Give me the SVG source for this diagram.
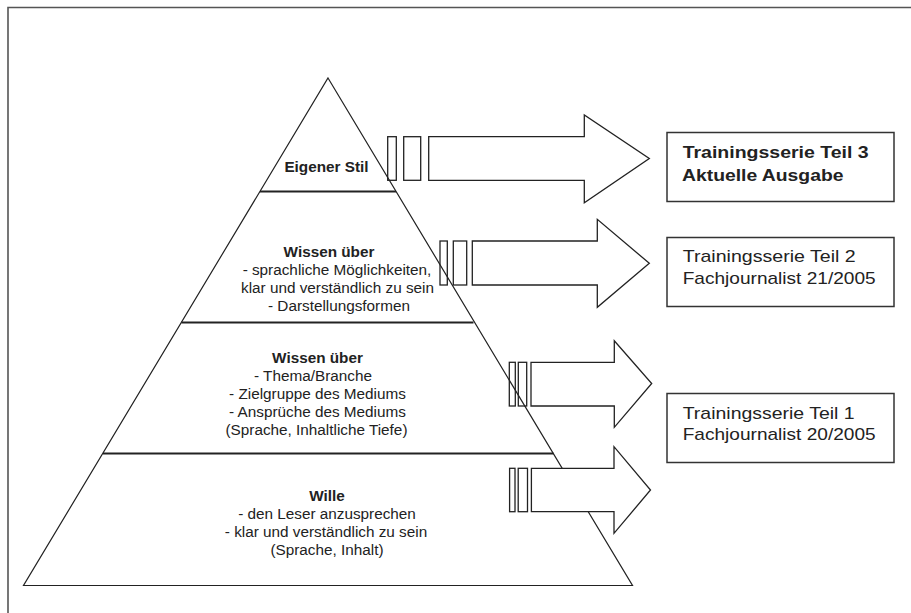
<svg xmlns="http://www.w3.org/2000/svg" width="911" height="613" viewBox="0 0 911 613">
<style>
  .ln { stroke:#222; fill:none; stroke-width:1.2; }
  .sep { stroke:#222; stroke-width:2; }
  .arrow { stroke:#222; fill:#fff; stroke-width:1.3; stroke-linejoin:miter; }
  .bar { stroke:#222; fill:none; stroke-width:1.3; }
  .box { stroke:#333; fill:#fff; stroke-width:1.5; }
  text { font-family:"Liberation Sans", Arial, sans-serif; fill:#222; }
  .pt { font-size:15.3px; text-anchor:middle; }
  .b { font-weight:bold; }
  .bt { font-size:17px; }
</style>
<rect width="911" height="613" fill="#fff"/>
<path id="frame" d="M911,7.5 H8 V613" stroke="#555" stroke-width="1.6" fill="none"/>

<g id="pyramid">
  <path class="ln" d="M328,78 L632.5,585.5 L23.5,585.5 Z"/>
  <g id="layer-eigener-stil">
    <line class="sep" x1="260" y1="191.5" x2="396" y2="191.5"/>
    <text class="pt b" x="326.5" y="172">Eigener Stil</text>
  </g>
  <g id="layer-wissen-sprache">
    <line class="sep" x1="181.5" y1="322.5" x2="473.5" y2="322.5"/>
    <text class="pt b" x="329" y="257">Wissen über</text>
    <text class="pt" x="337" y="275">- sprachliche Möglichkeiten,</text>
    <text class="pt" x="337.5" y="293">klar und verständlich zu sein</text>
    <text class="pt" x="339" y="311">- Darstellungsformen</text>
  </g>
  <g id="layer-wissen-thema">
    <line class="sep" x1="103" y1="453.5" x2="553.5" y2="453.5"/>
    <text class="pt b" x="317.5" y="362.5">Wissen über</text>
    <text class="pt" x="313" y="380.5">- Thema/Branche</text>
    <text class="pt" x="317.5" y="398.5">- Zielgruppe des Mediums</text>
    <text class="pt" x="317.5" y="416.5">- Ansprüche des Mediums</text>
    <text class="pt" x="316.5" y="434.5">(Sprache, Inhaltliche Tiefe)</text>
  </g>
  <g id="layer-wille">
    <text class="pt b" x="327" y="501">Wille</text>
    <text class="pt" x="327" y="519">- den Leser anzusprechen</text>
    <text class="pt" x="326" y="537">- klar und verständlich zu sein</text>
    <text class="pt" x="327" y="555">(Sprache, Inhalt)</text>
  </g>
</g>

<g id="connectors">
  <g id="arrow-3">
    <path class="arrow" d="M428.7,136.7 H584.3 V115 L649.3,158.5 L584.3,202.7 V180.3 H428.7 Z"/>
    <rect class="bar" x="387.7" y="136.7" width="8.6" height="43.6"/>
    <rect class="bar" x="403.7" y="136.7" width="17" height="43.6"/>
  </g>
  <g id="arrow-2">
    <path class="arrow" d="M472.3,241 H597.3 V219.3 L649.3,263.3 L597.3,307.3 V285 H472.3 Z"/>
    <rect class="bar" x="440" y="241" width="7.3" height="44"/>
    <rect class="bar" x="453.3" y="241" width="13.4" height="44"/>
  </g>
  <g id="arrow-1">
    <path class="arrow" d="M531,362.3 H614.3 V340.7 L651.7,383.5 L614.3,427.3 V406 H531 Z"/>
    <rect class="bar" x="509.3" y="362.3" width="6" height="43.7"/>
    <rect class="bar" x="518.3" y="362.3" width="8.4" height="43.7"/>
  </g>
  <g id="arrow-0">
    <path class="arrow" d="M531.4,468.3 H614 V446.7 L650.5,490 L614,533.3 V511.7 H531.4 Z"/>
    <rect class="bar" x="509.6" y="468.3" width="5.4" height="43.4"/>
    <rect class="bar" x="518.2" y="468.3" width="9.3" height="43.4"/>
  </g>
</g>

<g id="box-teil-3">
  <rect class="box" x="667" y="132.5" width="227" height="69"/>
  <text class="bt b" x="682.7" y="158" textLength="186" lengthAdjust="spacingAndGlyphs">Trainingsserie Teil 3</text>
  <text class="bt b" x="682" y="180.5" textLength="161.5" lengthAdjust="spacingAndGlyphs">Aktuelle Ausgabe</text>
</g>
<g id="box-teil-2">
  <rect class="box" x="667" y="237.5" width="227" height="69"/>
  <text class="bt" x="682.7" y="262" textLength="173" lengthAdjust="spacingAndGlyphs">Trainingsserie Teil 2</text>
  <text class="bt" x="682.7" y="283.5" textLength="193" lengthAdjust="spacingAndGlyphs">Fachjournalist 21/2005</text>
</g>
<g id="box-teil-1">
  <rect class="box" x="667" y="393.5" width="227" height="69"/>
  <text class="bt" x="682.7" y="418.5" textLength="172" lengthAdjust="spacingAndGlyphs">Trainingsserie Teil 1</text>
  <text class="bt" x="682.7" y="439.5" textLength="193" lengthAdjust="spacingAndGlyphs">Fachjournalist 20/2005</text>
</g>
</svg>
